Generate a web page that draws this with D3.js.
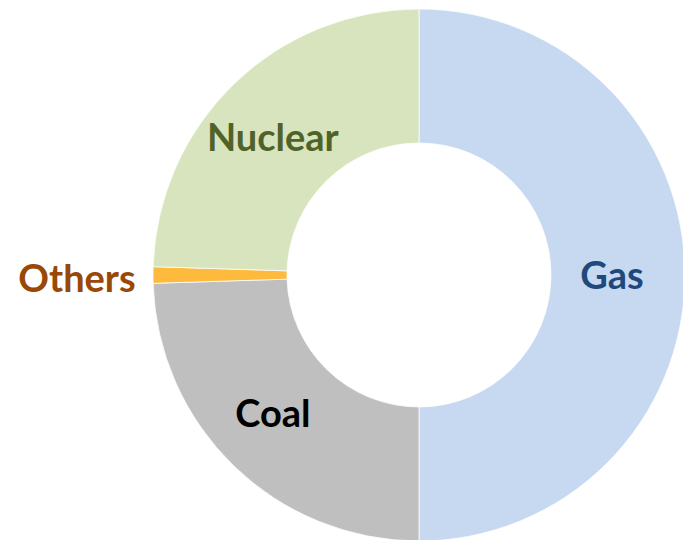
<!DOCTYPE html>
<html>
<head>
<meta charset="utf-8">
<script src="https://cdn.jsdelivr.net/npm/d3@7"></script>
<style>
  body { margin: 0; background: #fff; }
  svg { display: block; }
</style>
</head>
<body>
<div id="chart"></div>
<script>
// data
var sources = ["Gas", "Coal", "Others", "Nuclear"];
var shares = [50, 24.5, 1, 24.5];
var fills = ["#C6D9F1", "#BFBFBF", "#FDBA3D", "#D7E4BD"];
var labelColors = ["#1F497D", "#000000", "#984807", "#4F6228"];

var width = 683, height = 540;
var cx = 419, cy = 275;
var outerR = 266, innerR = 132;

var svg = d3.select("#chart")
  .append("svg")
  .attr("width", width)
  .attr("height", height);

var g = svg.append("g")
  .attr("transform", `translate(${cx},${cy})`);

var data = sources.map((s, i) => ({name: s, value: shares[i], fill: fills[i], color: labelColors[i]}));

var pie = d3.pie()
  .sort(null)
  .value(d => d.value);

var arc = d3.arc()
  .innerRadius(innerR)
  .outerRadius(outerR);

var arcs = pie(data);

g.selectAll("path")
  .data(arcs)
  .join("path")
  .attr("d", arc)
  .attr("fill", d => d.data.fill)
  .attr("stroke", "#fff")
  .attr("stroke-width", 0.75);

// labels: inside the ring (a bit squashed vertically, like the original), tiny slice outside
var insideArc = d3.arc().innerRadius(200).outerRadius(200);
var outsideArc = d3.arc().innerRadius(342).outerRadius(342);

g.selectAll("text")
  .data(arcs)
  .join("text")
  .attr("transform", d => {
    var p;
    if (d.data.value < 5) {
      p = outsideArc.centroid(d);
      p[1] += 3;
    } else {
      p = insideArc.centroid(d);
      p = [p[0] - 7, p[1] * 0.96];
    }
    return `translate(${p[0]},${p[1]})`;
  })
  .attr("text-anchor", "middle")
  .attr("dy", "0.36em")
  .attr("font-family", "Lato, 'Open Sans', sans-serif")
  .attr("font-weight", "bold")
  .attr("font-size", 38)
  .attr("fill", d => d.data.color)
  .text(d => d.data.name);
</script>
</body>
</html>
